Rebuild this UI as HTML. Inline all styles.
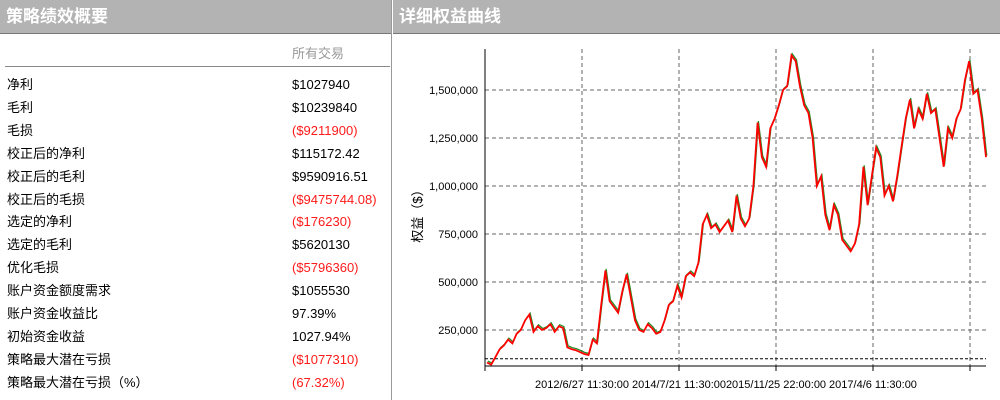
<!DOCTYPE html>
<html><head><meta charset="utf-8">
<style>
body{margin:0;width:1000px;height:400px;background:#fff;font-family:"Liberation Sans","Noto Sans CJK SC",sans-serif;overflow:hidden;position:relative}
.hdr{position:absolute;top:0;height:34px;background:#b3b3b3;border-bottom:1px solid #777;color:#fff;font-weight:bold;font-size:17px;line-height:34px;padding-left:6px;box-sizing:border-box}
.row{position:absolute;left:7px;font-size:13px;color:#000;height:20px;line-height:20px}
.val{position:absolute;left:292px;font-size:13px;height:20px;line-height:20px}
.neg{color:#ff1a1a}
</style></head><body>
<div class="hdr" style="left:0;width:391px">策略绩效概要</div>
<div style="position:absolute;left:391px;top:0;width:1px;height:400px;background:#999"></div>
<div class="hdr" style="left:393px;width:607px">详细权益曲线</div>
<div style="position:absolute;left:292px;top:43px;font-size:13px;color:#999">所有交易</div>
<div style="position:absolute;left:5px;top:66px;width:385px;height:1px;background:#888"></div>
<div id="rows"></div>
<svg id="chart" width="1000" height="400" style="position:absolute;left:0;top:0"></svg>
<script>
const labels=["净利","毛利","毛损","校正后的净利","校正后的毛利","校正后的毛损","选定的净利","选定的毛利","优化毛损","账户资金额度需求","账户资金收益比","初始资金收益","策略最大潜在亏损","策略最大潜在亏损（%）"];
const values=["$1027940","$10239840","($9211900)","$115172.42","$9590916.51","($9475744.08)","($176230)","$5620130","($5796360)","$1055530","97.39%","1027.94%","($1077310)","(67.32%)"];
const rc=document.getElementById('rows');
labels.forEach((l,i)=>{
  const y=75+i*22.9;
  const a=document.createElement('div');a.className='row';a.style.top=y+'px';a.textContent=l;
  
  
  rc.appendChild(a);
  const b=document.createElement('div');b.className='val'+(values[i].startsWith('(')?' neg':'');b.style.top=y+'px';b.textContent=values[i];
  
  
  rc.appendChild(b);
});
</script>
<script>
const yTicks=[250000,500000,750000,1000000,1250000,1500000];
const xTickLabels=["","2012/6/27 11:30:00","2014/7/21 11:30:00","2015/11/25 22:00:00","2017/4/6 11:30:00",""];
const initialCapital=100000;
const equity=[80,70,110,150,170,200,180,230,250,300,330,240,270,250,260,280,240,270,260,160,150,145,135,125,120,200,180,380,560,400,370,340,450,540,420,300,250,240,280,260,230,240,300,380,400,480,420,530,550,530,600,800,850,780,800,760,790,820,760,950,830,790,830,1000,1330,1150,1100,1300,1350,1420,1500,1520,1680,1650,1520,1420,1380,1250,1000,1050,850,770,900,850,720,690,660,700,800,1100,900,1050,1200,1150,950,1000,920,1050,1200,1350,1450,1300,1400,1350,1480,1380,1400,1250,1100,1300,1250,1350,1400,1550,1650,1480,1500,1350,1150];
const X0=485,X1=986,YT=49,YB=366;
const yS=v=>378-v/250000*48;
const xS=i=>X0+2+(X1-X0-2)*i/(equity.length-1);
const NS='http://www.w3.org/2000/svg';
const svg=document.getElementById('chart');
function mk(t,a){const e=document.createElementNS(NS,t);for(const k in a)e.setAttribute(k,a[k]);svg.appendChild(e);return e;}
yTicks.forEach(v=>{
  const l=mk('line',{x1:X0,x2:X1,y1:yS(v),y2:yS(v),stroke:'#666','stroke-dasharray':'4,3','stroke-width':1});
  
  
  const t=mk('text',{x:X0-7,y:yS(v)+4,'text-anchor':'end','font-size':11,fill:'#000'});
  t.textContent=v.toLocaleString('en-US');
  
  
});
xTickLabels.forEach((s,i)=>{
  const x=X0+i*97;
  const g=mk('line',{x1:x,x2:x,y1:YT,y2:YB,stroke:'#666','stroke-dasharray':'4,3'});
  
  
  const tk=mk('line',{x1:x,x2:x,y1:YB,y2:YB+5,stroke:'#000'});
  
  
  if(s){const t=mk('text',{x:x,y:388,'text-anchor':'middle','font-size':11,fill:'#000'});t.textContent=s;
  
  }
});
const base=mk('line',{x1:X0,x2:X1,y1:yS(initialCapital),y2:yS(initialCapital),stroke:'#000','stroke-dasharray':'3,2'});


const ax=mk('line',{x1:X0,x2:X0,y1:YT,y2:YB,stroke:'#000'});


const bx=mk('line',{x1:X0,x2:X1,y1:YB,y2:YB,stroke:'#000'});


const yt=mk('text',{x:0,y:0,'font-size':13,transform:'translate(422,213) rotate(-90)','text-anchor':'middle',fill:'#000'});
yt.textContent='权益（$）';


const pts=equity.map((v,i)=>xS(i).toFixed(1)+','+yS(v*1000).toFixed(1)).join(' ');
const gp=mk('polyline',{points:equity.map((v,i)=>(xS(i)+0.8).toFixed(1)+','+(yS(v*1000)-1.5).toFixed(1)).join(' '),fill:'none',stroke:'#228b22','stroke-width':1.2});


const rp=mk('polyline',{points:pts,fill:'none',stroke:'#ff0000','stroke-width':1.8});


</script>
</body></html>
